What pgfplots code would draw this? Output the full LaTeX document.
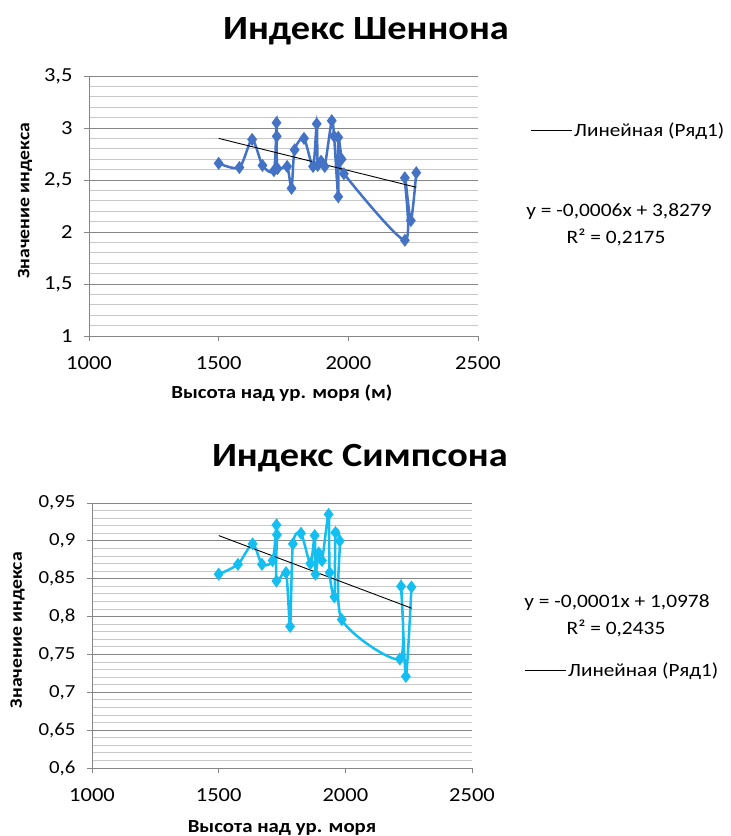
\documentclass[border=0pt]{standalone}
\usepackage{fontspec}
\setmainfont{Carlito}[FakeStretch=1.13]
\usepackage{pgfplots}
\pgfplotsset{compat=1.18}
\definecolor{sblue}{RGB}{68,114,196}
\definecolor{scyan}{RGB}{20,190,240}
\definecolor{majgrid}{RGB}{134,134,134}
\definecolor{mingrid}{RGB}{200,200,200}
\definecolor{axgray}{RGB}{134,134,134}
\pgfplotsset{excel/.style={
  scale only axis,
  axis x line=bottom, axis y line=left,
  axis line style={draw=axgray, line width=0.8bp, -},
  xmin=1000, xmax=2500, xtick={1000,1500,2000,2500},
  tick align=outside, major tick length=5bp, minor tick length=0pt,
  tick style={draw=axgray, line width=0.8bp},
  ymajorgrids, yminorgrids, minor y tick num=4,
  major grid style={draw=majgrid, line width=0.8bp},
  minor grid style={draw=mingrid, line width=0.8bp},
  /pgf/number format/assume math mode=true,
  /pgf/number format/use comma,
  /pgf/number format/1000 sep={},
  tick label style={font=\fontsize{20}{20}\selectfont},
  xticklabel style={yshift=-12bp},
  yticklabel style={xshift=-8bp},
  xlabel style={font=\bfseries\fontsize{18.5}{18.5}\selectfont},
  ylabel style={font=\bfseries\fontsize{17.5}{17.5}\selectfont},
  title style={font=\bfseries\fontsize{34}{34}\selectfont},
  legend style={draw=none, fill=none, font=\fontsize{18.8}{18.8}\selectfont, inner sep=0pt, legend cell align=left},
  legend image code/.code={\draw[#1] (0bp,0bp) -- (41bp,0bp);},
  clip=false,
}}
\begin{document}
\begin{tikzpicture}
\path[use as bounding box] (0,0) rectangle (731bp,836bp);
% ---------- Shannon ----------
\begin{axis}[excel, at={(89bp,500bp)}, anchor=south west, width=389bp, height=260bp,
  ymin=1, ymax=3.5, ytick={1,1.5,2,2.5,3,3.5},
  title={Индекс Шеннона},
  title style={at={(axis description cs:0.712,1)}, anchor=center, yshift=39bp},
  xlabel={Высота над ур. моря (м)},
  xlabel style={at={(axis description cs:0.496,0)}, anchor=center, yshift=-57bp},
  ylabel={Значение индекса},
  ylabel style={at={(axis description cs:-0.1645,0.52)}, anchor=center},
  legend style={at={(axis description cs:1.134,0.792)}, anchor=west},
]
\addplot[sblue, line width=2.5bp, smooth, tension=0.45, mark=diamond*, mark size=4.5bp, mark options={solid, fill=sblue}, forget plot]
coordinates {
(1500,2.66) (1580,2.62) (1629,2.89) (1669,2.64) (1713,2.59) (1723,3.05) (1724,2.92) (1727,2.61)
(1764,2.63) (1781,2.42) (1793,2.79) (1829,2.90) (1864,2.63) (1878,3.04) (1882,2.64) (1895,2.68)
(1909,2.63) (1936,3.07) (1945,2.92) (1961,2.34) (1961,2.91) (1974,2.70) (1983,2.56)
(2218,1.92) (2218,2.52) (2241,2.11) (2262,2.57)
};
\addplot[black, line width=0.9bp] coordinates {(1500,2.90) (2262,2.43)};
\addlegendentry{Линейная (Ряд1)}
\end{axis}
\node[font=\fontsize{19}{19}\selectfont] at (619bp,624bp) {y = -0,0006x + 3,8279};
\node[font=\fontsize{19}{19}\selectfont] at (616bp,599bp) {R² = 0,2175};
% ---------- Simpson ----------
\begin{axis}[excel, at={(92bp,68bp)}, anchor=south west, width=380bp, height=265bp,
  ymin=0.6, ymax=0.95, ytick={0.6,0.65,0.7,0.75,0.8,0.85,0.9,0.95},
  yticklabel style={font=\fontsize{18.5}{18.5}\selectfont},
  title={Индекс Симпсона},
  title style={at={(axis description cs:0.705,1)}, anchor=center, yshift=39bp},
  xlabel={Высота над ур. моря},
  xlabel style={at={(axis description cs:0.5,0)}, anchor=center, yshift=-60bp},
  ylabel={Значение индекса},
  ylabel style={at={(axis description cs:-0.196,0.52)}, anchor=center},
  legend style={at={(axis description cs:1.137,0.37)}, anchor=west},
]
\addplot[scyan, line width=2.5bp, smooth, tension=0.45, mark=diamond*, mark size=4.5bp, mark options={solid, fill=scyan}, forget plot]
coordinates {
(1500,0.856) (1576,0.869) (1634,0.896) (1671,0.869) (1713,0.874) (1728,0.921) (1730,0.908) (1728,0.847)
(1766,0.858) (1782,0.787) (1793,0.896) (1825,0.910) (1862,0.870) (1879,0.907) (1882,0.856) (1895,0.884)
(1908,0.874) (1934,0.935) (1938,0.858) (1957,0.826) (1961,0.911) (1978,0.900) (1986,0.796)
(2215,0.744) (2220,0.840) (2239,0.721) (2261,0.839)
};
\addplot[black, line width=0.9bp] coordinates {(1500,0.907) (2262,0.811)};
\addlegendentry{Линейная (Ряд1)}
\end{axis}
\node[font=\fontsize{19}{19}\selectfont] at (617bp,233bp) {y = -0,0001x + 1,0978};
\node[font=\fontsize{19}{19}\selectfont] at (616bp,208bp) {R² = 0,2435};
\end{tikzpicture}
\end{document}
